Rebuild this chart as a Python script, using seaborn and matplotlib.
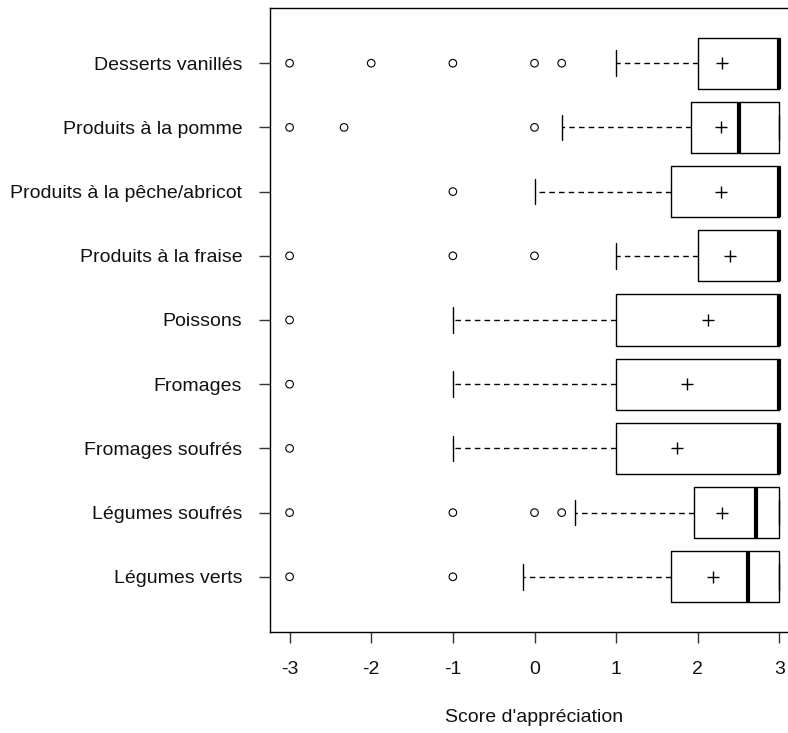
import seaborn as sns
import matplotlib.pyplot as plt
import pandas as pd

# Categories, listed from top to bottom as in the chart
categories = ['Desserts vanillés', 'Produits à la pomme', 'Produits à la pêche/abricot',
              'Produits à la fraise', 'Poissons', 'Fromages', 'Fromages soufrés',
              'Légumes soufrés', 'Légumes verts']

# Box statistics
whisker_low = [1, 0.333, 0, 1, -1, -1, -1, 0.5, -0.14]
q1 = [2, 1.92, 1.67, 2, 1, 1, 1, 1.95, 1.67]
median = [3, 2.5, 3, 3, 3, 3, 3, 2.71, 2.62]
q3 = [3, 3, 3, 3, 3, 3, 3, 3, 3]
whisker_high = [3, 3, 3, 3, 3, 3, 3, 3, 3]
means = [2.30, 2.29, 2.29, 2.39, 2.12, 1.87, 1.75, 2.30, 2.19]
outliers = [
    [-3, -2, -1, 0, 0.333],
    [-3, -2.333, 0],
    [-1],
    [-3, -1, 0],
    [-3],
    [-3],
    [-3],
    [-3, -1, 0, 0.333],
    [-3, -1],
]

sns.set_style('white')
plt.rcParams['font.family'] = ['Liberation Sans', 'DejaVu Sans']

n = len(categories)
positions = [n - i for i in range(n)]

stats = []
for i, cat in enumerate(categories):
    stats.append({
        'label': cat, 'whislo': whisker_low[i], 'q1': q1[i], 'med': median[i],
        'q3': q3[i], 'whishi': whisker_high[i], 'fliers': [],
    })

fig = plt.figure(figsize=(7.88, 7.33), dpi=100)
ax = fig.add_axes([270 / 788, 101 / 733, 529 / 788, 624 / 733])

ax.bxp(stats, positions=positions, vert=False, widths=0.8, showfliers=False,
       boxprops=dict(color='black', linewidth=1),
       medianprops=dict(color='black', linewidth=3, solid_capstyle='butt'),
       whiskerprops=dict(color='black', linewidth=1, linestyle=(0, (4, 3))),
       capprops=dict(color='black', linewidth=1), capwidths=0.4)

out_df = pd.DataFrame([(v, positions[i]) for i, vals in enumerate(outliers) for v in vals],
                      columns=['score', 'pos'])
mean_df = pd.DataFrame({'score': means, 'pos': positions})

sns.scatterplot(data=out_df, x='score', y='pos', marker='o', s=30,
                facecolors='none', edgecolor='black', linewidth=0.8, ax=ax, zorder=3)
sns.scatterplot(data=mean_df, x='score', y='pos', marker='+', s=70,
                color='black', linewidth=1, ax=ax, zorder=3)

ax.set_xlim(-3.24, 3.24)
ax.set_ylim(0.14, 9.86)
ax.set_xticks([-3, -2, -1, 0, 1, 2, 3])
ax.set_xticklabels(['-3', '-2', '-1', '0', '1', '2', '3'])
ax.set_yticks(positions)
ax.set_yticklabels(categories)
ax.tick_params(axis='both', direction='out', length=8, width=1, color='#333333',
               labelsize=14, labelcolor='#111111', left=True, bottom=True)
ax.tick_params(axis='x', pad=13)
ax.tick_params(axis='y', pad=12)
ax.set_xlabel("Score d'appréciation", fontsize=14, labelpad=22, color='#111111')
ax.set_ylabel('')
for side in ['left', 'bottom', 'top', 'right']:
    ax.spines[side].set_visible(True)
    ax.spines[side].set_color('black')
    ax.spines[side].set_linewidth(1)

fig.savefig('out.png', dpi=100)
